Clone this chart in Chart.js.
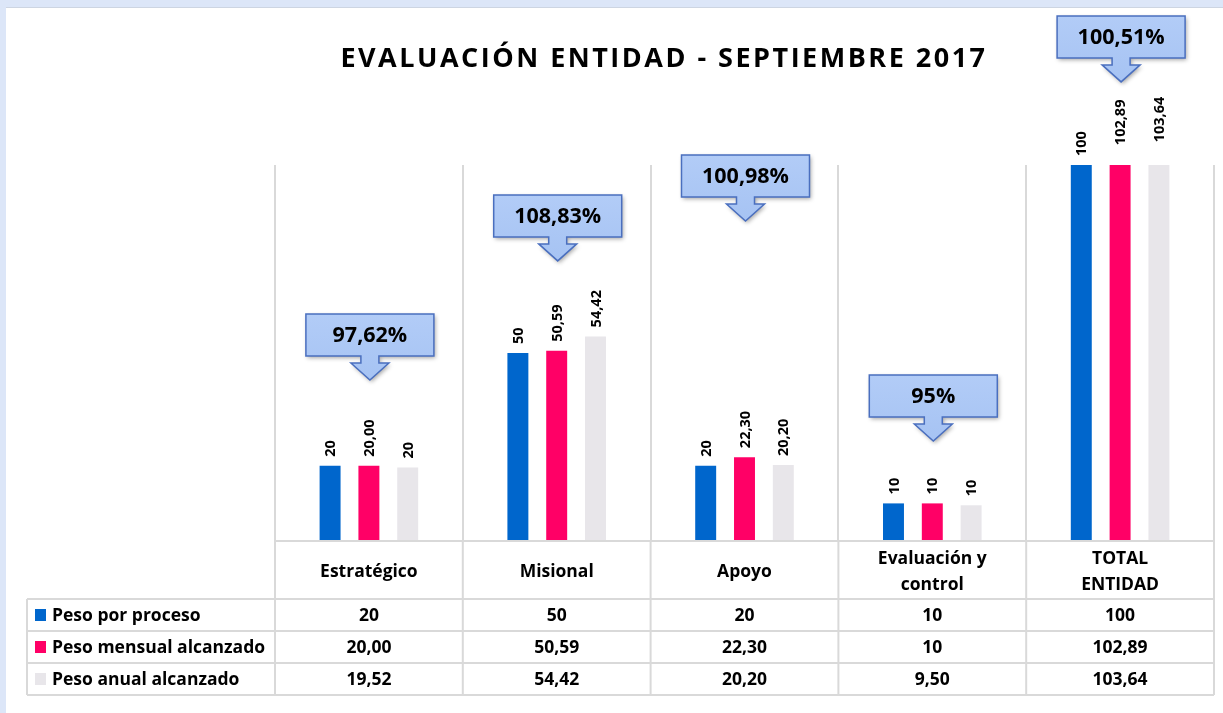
<!DOCTYPE html>
<html>
<head>
<meta charset="utf-8">
<script src="https://cdn.jsdelivr.net/npm/chart.js@4"></script>
<style>
  html, body { margin: 0; padding: 0; background: #fff; overflow: hidden; }
  canvas { display: block; }
</style>
</head>
<body>
<canvas id="c" width="1223" height="713"></canvas>
<script>
// ---- data ----
const chartTitle = 'EVALUACIÓN ENTIDAD - SEPTIEMBRE 2017';
const categories = ['Estratégico', 'Misional', 'Apoyo', ['Evaluación y', 'control'], ['TOTAL', 'ENTIDAD']];
const seriesNames = ['Peso por proceso', 'Peso mensual alcanzado', 'Peso anual alcanzado'];
const pesoProceso = [20, 50, 20, 10, 100];
const pesoMensual = [20.00, 50.59, 22.30, 10, 102.89];
const pesoAnual = [19.52, 54.42, 20.20, 9.50, 103.64];
const pesoProcesoText = ['20', '50', '20', '10', '100'];
const pesoMensualText = ['20,00', '50,59', '22,30', '10', '102,89'];
const pesoAnualText = ['19,52', '54,42', '20,20', '9,50', '103,64'];
const pesoAnualBarText = ['20', '54,42', '20,20', '10', '103,64'];
const cumplimientoText = ['97,62%', '108,83%', '100,98%', '95%', '100,51%'];

// ---- styles ----
const colors = ['#0066CC', '#FF0066', '#E8E6EA'];
const gridColor = '#D9D9D9';
const FONT = '"Open Sans", sans-serif';

const tableRows = [
  { name: seriesNames[0], color: colors[0], text: pesoProcesoText },
  { name: seriesNames[1], color: colors[1], text: pesoMensualText },
  { name: seriesNames[2], color: colors[2], text: pesoAnualText }
];
const barLabelTexts = [pesoProcesoText, pesoMensualText, pesoAnualBarText];

const bgPlugin = {
  id: 'bg',
  beforeDraw(chart) {
    const ctx = chart.ctx;
    ctx.save();
    ctx.fillStyle = '#ffffff';
    ctx.fillRect(0, 0, chart.width, chart.height);
    ctx.fillStyle = '#DCE6F8';
    ctx.fillRect(0, 0, chart.width, 7);
    ctx.fillRect(0, 0, 6, chart.height);
    ctx.fillStyle = '#CDD5E2';
    ctx.fillRect(6, 7, chart.width - 6, 1);
    ctx.restore();
  }
};

const titlePlugin = {
  id: 'spacedTitle',
  afterDraw(chart, args, opts) {
    const ctx = chart.ctx;
    ctx.save();
    ctx.font = 'bold 27px ' + FONT;
    ctx.letterSpacing = opts.spacing + 'px';
    ctx.fillStyle = '#000';
    ctx.textAlign = 'center';
    ctx.textBaseline = 'middle';
    ctx.fillText(chartTitle, opts.x, opts.y);
    ctx.restore();
  }
};

const barLabelPlugin = {
  id: 'barLabels',
  afterDatasetsDraw(chart) {
    const ctx = chart.ctx;
    ctx.save();
    ctx.font = 'bold 14.5px ' + FONT;
    ctx.fillStyle = '#000';
    ctx.textAlign = 'left';
    ctx.textBaseline = 'middle';
    chart.data.datasets.forEach((ds, di) => {
      const meta = chart.getDatasetMeta(di);
      meta.data.forEach((el, i) => {
        ctx.save();
        ctx.translate(el.x, el.y - 9);
        ctx.rotate(-Math.PI / 2);
        ctx.fillText(barLabelTexts[di][i], 0, 1);
        ctx.restore();
      });
    });
    ctx.restore();
  }
};

const tablePlugin = {
  id: 'dataTable',
  afterDraw(chart, args, opts) {
    const ctx = chart.ctx;
    const xs = chart.scales.x;
    const area = chart.chartArea;
    const n = chart.data.labels.length;
    const colW = (xs.right - xs.left) / n;
    const headTop = area.bottom;
    const headBottom = xs.bottom;
    const rowH = opts.rowHeight;
    const tableBottom = headBottom + rowH * tableRows.length;
    ctx.save();
    ctx.strokeStyle = gridColor;
    ctx.lineWidth = 2;
    ctx.beginPath();
    ctx.moveTo(xs.left, headTop); ctx.lineTo(xs.right, headTop);
    for (let r = 0; r <= tableRows.length; r++) {
      const yy = headBottom + r * rowH;
      ctx.moveTo(opts.left, yy); ctx.lineTo(xs.right, yy);
    }
    for (let c = 0; c <= n; c++) {
      const xx = xs.left + c * colW;
      ctx.moveTo(xx, headTop); ctx.lineTo(xx, tableBottom);
    }
    ctx.moveTo(opts.left, headBottom); ctx.lineTo(opts.left, tableBottom);
    ctx.stroke();

    ctx.font = 'bold 17.5px ' + FONT;
    ctx.textBaseline = 'middle';
    tableRows.forEach((row, r) => {
      const cy = headBottom + r * rowH + rowH / 2;
      ctx.fillStyle = row.color;
      ctx.fillRect(opts.left + 8, cy - 6, 11, 12);
      ctx.fillStyle = '#000';
      ctx.textAlign = 'left';
      ctx.fillText(row.name, opts.left + 25, cy + 1);
      ctx.textAlign = 'center';
      row.text.forEach((t, c) => {
        ctx.fillText(t, xs.getPixelForValue(c), cy + 1);
      });
    });
    ctx.restore();
  }
};

const calloutPlugin = {
  id: 'callouts',
  afterDraw(chart, args, opts) {
    const ctx = chart.ctx;
    const xs = chart.scales.x, ys = chart.scales.y;
    const boxW = 128, boxH = 42, stemW = 18, stemH = 7, headW = 38, headH = 17;
    opts.tips.forEach((tv, i) => {
      const cx = xs.getPixelForValue(i) + 1;
      const tip = ys.getPixelForValue(tv);
      const bB = tip - headH - stemH, bT = bB - boxH;
      const l = cx - boxW / 2, r = cx + boxW / 2;
      ctx.save();
      ctx.beginPath();
      ctx.moveTo(l, bT);
      ctx.lineTo(r, bT);
      ctx.lineTo(r, bB);
      ctx.lineTo(cx + stemW / 2, bB);
      ctx.lineTo(cx + stemW / 2, bB + stemH);
      ctx.lineTo(cx + headW / 2, bB + stemH);
      ctx.lineTo(cx, tip);
      ctx.lineTo(cx - headW / 2, bB + stemH);
      ctx.lineTo(cx - stemW / 2, bB + stemH);
      ctx.lineTo(cx - stemW / 2, bB);
      ctx.lineTo(l, bB);
      ctx.closePath();
      ctx.shadowColor = 'rgba(0,0,0,0.35)';
      ctx.shadowBlur = 4;
      ctx.shadowOffsetX = 1.5;
      ctx.shadowOffsetY = 2;
      const g = ctx.createLinearGradient(0, bT, 0, tip);
      g.addColorStop(0, '#B2CCF7');
      g.addColorStop(1, '#A6C3F3');
      ctx.fillStyle = g;
      ctx.fill();
      ctx.shadowColor = 'transparent';
      ctx.strokeStyle = '#4A6FBF';
      ctx.lineWidth = 1.5;
      ctx.stroke();
      ctx.fillStyle = '#000';
      ctx.font = 'bold 21.5px ' + FONT;
      ctx.textAlign = 'center';
      ctx.textBaseline = 'middle';
      ctx.fillText(cumplimientoText[i], cx, (bT + bB) / 2 + 1);
      ctx.restore();
    });
  }
};

new Chart(document.getElementById('c'), {
  type: 'bar',
  data: {
    labels: categories,
    datasets: [
      { label: seriesNames[0], data: pesoProceso, backgroundColor: colors[0] },
      { label: seriesNames[1], data: pesoMensual, backgroundColor: colors[1] },
      { label: seriesNames[2], data: pesoAnual, backgroundColor: colors[2] }
    ].map(d => Object.assign(d, { categoryPercentage: 0.62, barPercentage: 0.54, borderWidth: 0, clip: 0 }))
  },
  options: {
    responsive: false,
    animation: false,
    events: [],
    layout: { padding: { left: 275, right: 9, top: 165, bottom: 114 } },
    plugins: {
      legend: { display: false },
      title: { display: false },
      tooltip: { enabled: false },
      spacedTitle: { x: 664, y: 59, spacing: 2.5 },
      dataTable: { left: 27, rowHeight: 32 },
      callouts: { tips: [42.8, 74.5, 85.1, 26.6, 122.1] }
    },
    scales: {
      y: { display: false, min: 0, max: 100 },
      x: {
        afterFit(s) { s.height = 58; },
        grid: { offset: true, color: gridColor, lineWidth: 2, drawTicks: false },
        border: { display: true, color: gridColor, width: 2 },
        ticks: {
          color: '#000',
          font: { family: FONT, weight: 'bold', size: 17.5, lineHeight: 1.5 },
          padding: 18,
          crossAlign: 'center',
          maxRotation: 0,
          autoSkip: false
        }
      }
    }
  },
  plugins: [bgPlugin, barLabelPlugin, tablePlugin, calloutPlugin, titlePlugin]
});
</script>
</body>
</html>
